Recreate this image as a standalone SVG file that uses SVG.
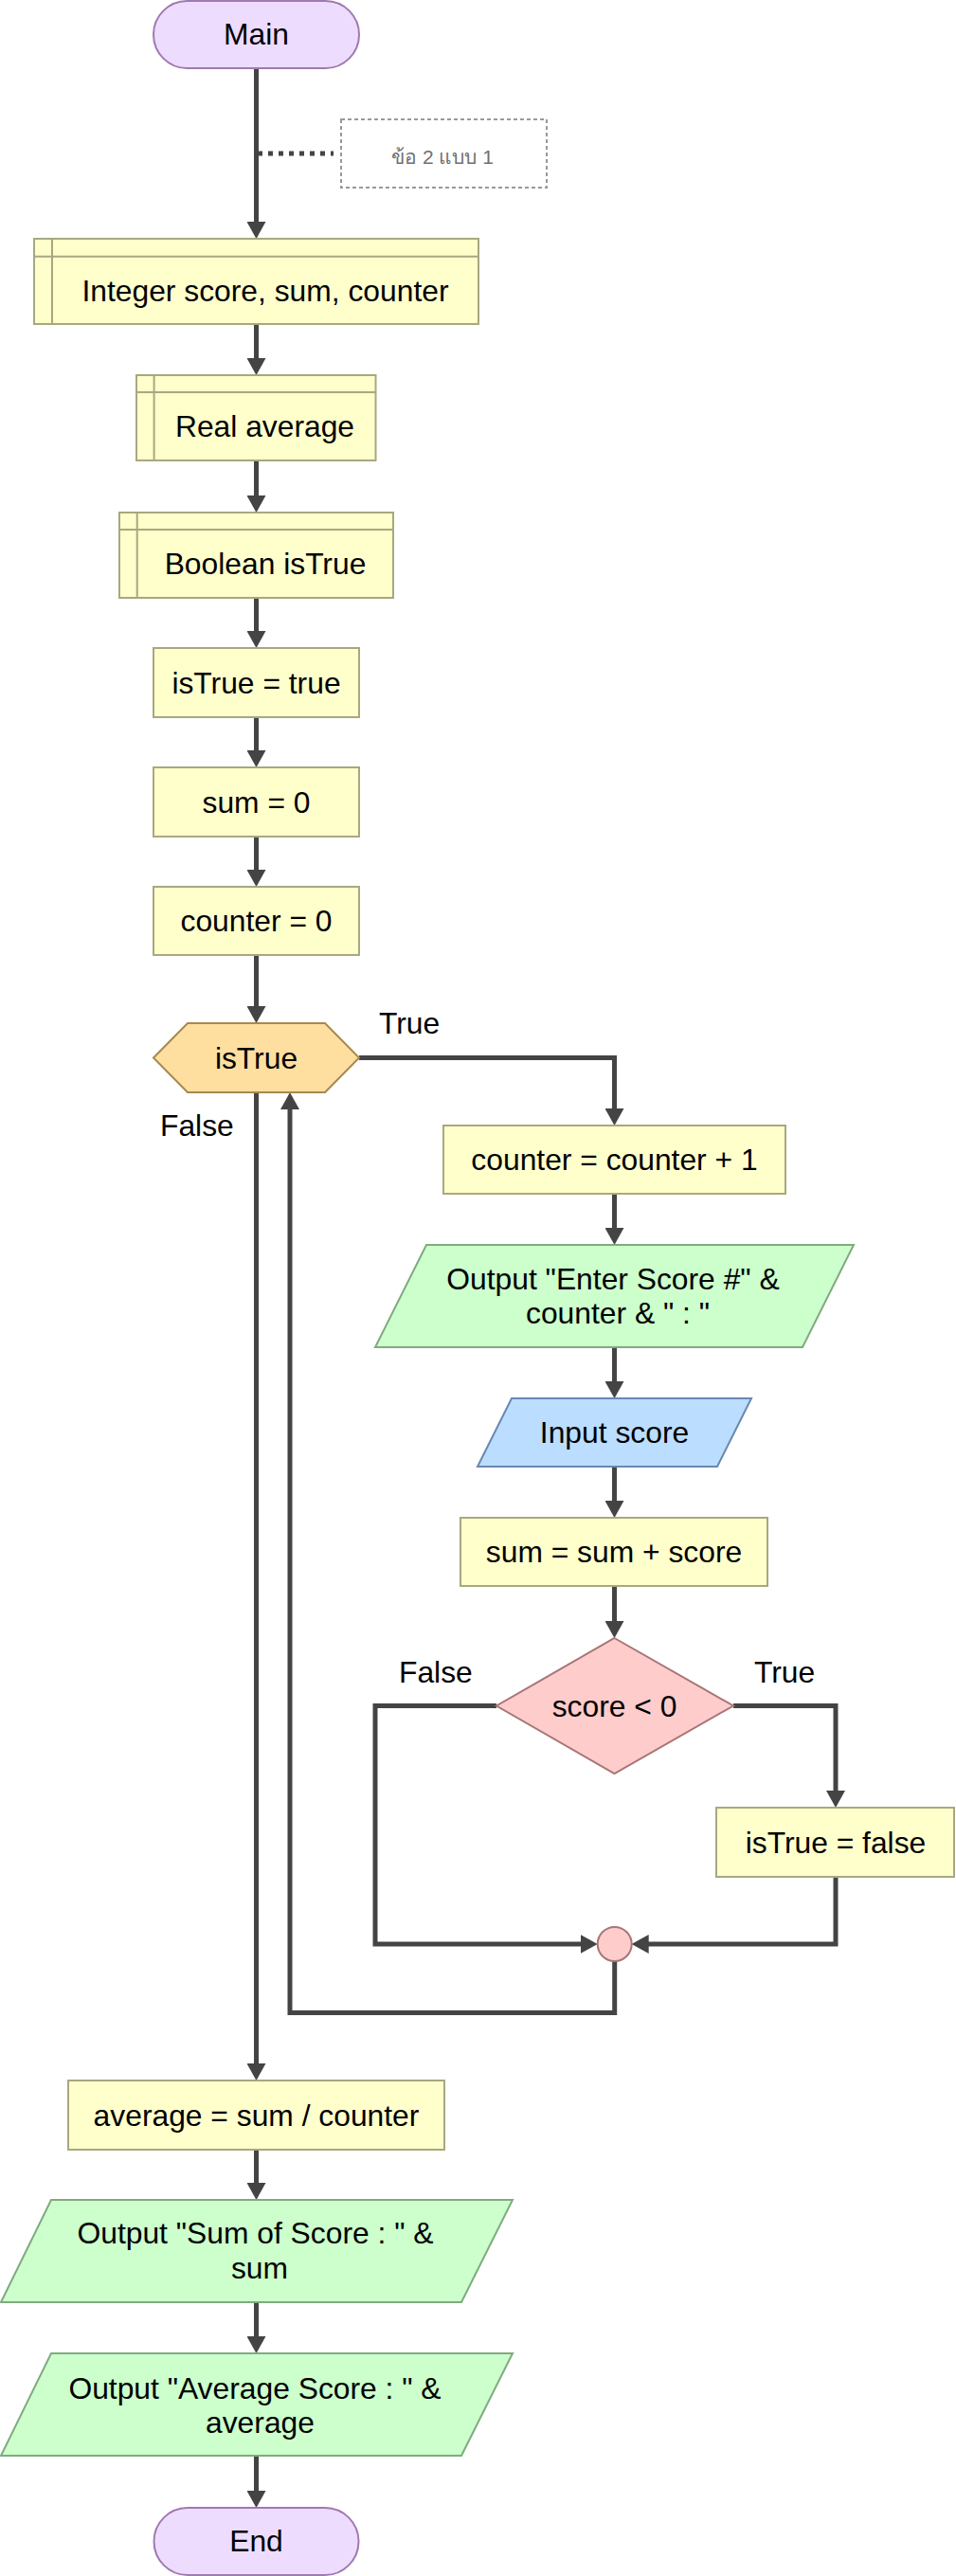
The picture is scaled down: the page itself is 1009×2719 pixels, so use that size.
<svg xmlns="http://www.w3.org/2000/svg" width="1009" height="2719" viewBox="0 0 1009 2719">
<style>
text{font-family:"Liberation Sans",Arial,"Noto Sans",sans-serif;font-size:31.8px;fill:#000;text-anchor:middle}
.lbl{text-anchor:start}
.cmt{font-size:21px;fill:#707070;font-weight:normal}
.proc{fill:#ffffcc;stroke:#a8a880;stroke-width:2}
.term{fill:#eedcff;stroke:#a07ab0;stroke-width:2}
.loop{fill:#ffdf9f;stroke:#a8884e;stroke-width:2}
.out{fill:#ccffcc;stroke:#80aa80;stroke-width:2}
.inp{fill:#bbddff;stroke:#6888b0;stroke-width:2}
.dec{fill:#ffcccc;stroke:#a87676;stroke-width:2}
.cbox{fill:#fff;stroke:#999;stroke-width:2;stroke-dasharray:4 3}
.c{fill:none;stroke:#444;stroke-width:5;marker-end:url(#ah)}
.dot{fill:none;stroke:#444;stroke-width:5;stroke-dasharray:5 6}
</style>
<defs>
<marker id="ah" viewBox="0 0 18 20" markerWidth="18" markerHeight="20" refX="8" refY="10" orient="auto" markerUnits="userSpaceOnUse">
<path d="M0,0 L18,10 L0,20 z" fill="#444"/>
</marker>
</defs>
<g id="connectors">
<path class="c" d="M270.5,72 V242"/>
<path class="dot" d="M272,162 H352"/>
<path class="c" d="M270.5,342 V386"/>
<path class="c" d="M270.5,486 V531"/>
<path class="c" d="M270.5,631 V674"/>
<path class="c" d="M270.5,757 V800"/>
<path class="c" d="M270.5,883 V926"/>
<path class="c" d="M270.5,1008 V1070"/>
<path class="c" d="M379,1116.5 H648.5 V1178"/>
<path class="c" d="M648.5,1260 V1304"/>
<path class="c" d="M648.5,1422 V1466"/>
<path class="c" d="M648.5,1548 V1592"/>
<path class="c" d="M648.5,1674 V1719"/>
<path class="c" d="M774,1800.5 H882 V1898"/>
<path class="c" d="M524,1800.5 H396 V2052 H620.7"/>
<path class="c" d="M882,1981 V2052 H676.7"/>
<path class="c" d="M648.7,2070 V2124.5 H306 V1163"/>
<path class="c" d="M270.5,1153 V2186"/>
<path class="c" d="M270.5,2269 V2312"/>
<path class="c" d="M270.5,2430 V2474"/>
<path class="c" d="M270.5,2592 V2637"/>
<text class="lbl" x="400" y="1091">True</text>
<text class="lbl" x="169" y="1199">False</text>
<text class="lbl" x="421" y="1775.5">False</text>
<text class="lbl" x="796" y="1775.5">True</text>
</g>
<g id="main">
<rect class="term" x="162" y="1" width="217" height="71" rx="35.5"/>
<text x="270.5" y="47">Main</text>
</g>
<g id="comment">
<rect class="cbox" x="360" y="126" width="217" height="72"/>
<text class="cmt" x="467" y="173">ข้อ 2 แบบ 1</text>
</g>
<g id="decl-integer">
<rect class="proc" x="36" y="252" width="469" height="90"/>
<path class="proc" d="M55,252 V342 M36,270.7 H505"/>
<text x="280" y="318">Integer score, sum, counter</text>
</g>
<g id="decl-real">
<rect class="proc" x="144" y="396" width="252.5" height="90"/>
<path class="proc" d="M162.6,396 V486 M144,414 H396.5"/>
<text x="279.5" y="461">Real average</text>
</g>
<g id="decl-boolean">
<rect class="proc" x="126" y="541" width="289" height="90"/>
<path class="proc" d="M144.7,541 V631 M126,559 H415"/>
<text x="280" y="606">Boolean isTrue</text>
</g>
<g id="assign-istrue">
<rect class="proc" x="162" y="684" width="217" height="73"/>
<text x="270.5" y="732">isTrue = true</text>
</g>
<g id="assign-sum">
<rect class="proc" x="162" y="810" width="217" height="73"/>
<text x="270.5" y="857.5">sum = 0</text>
</g>
<g id="assign-counter">
<rect class="proc" x="162" y="936" width="217" height="72"/>
<text x="270.5" y="983">counter = 0</text>
</g>
<g id="while-istrue">
<polygon class="loop" points="162,1116.5 198,1080 343,1080 379,1116.5 343,1153 198,1153"/>
<text x="270.5" y="1127.5">isTrue</text>
</g>
<g id="counter-inc">
<rect class="proc" x="468" y="1188" width="361" height="72"/>
<text x="648.5" y="1235">counter = counter + 1</text>
</g>
<g id="output-enter">
<polygon class="out" points="450,1314 901,1314 847,1422 396,1422"/>
<text x="647" y="1361">Output "Enter Score #" &amp;</text>
<text x="652" y="1397">counter &amp; " : "</text>
</g>
<g id="input-score">
<polygon class="inp" points="540,1476 793,1476 757,1548 504,1548"/>
<text x="648.5" y="1523">Input score</text>
</g>
<g id="sum-add">
<rect class="proc" x="486" y="1602" width="324" height="72"/>
<text x="648" y="1649">sum = sum + score</text>
</g>
<g id="if-score">
<polygon class="dec" points="648.5,1729 774,1800.5 648.5,1872 524,1800.5"/>
<text x="648.5" y="1811.5">score &lt; 0</text>
</g>
<g id="assign-false">
<rect class="proc" x="756" y="1908" width="251" height="73"/>
<text x="882" y="1956">isTrue = false</text>
</g>
<g id="merge">
<circle class="dec" cx="648.7" cy="2052" r="18"/>
</g>
<g id="average-calc">
<rect class="proc" x="72" y="2196" width="397" height="73"/>
<text x="270.5" y="2243.5">average = sum / counter</text>
</g>
<g id="output-sum">
<polygon class="out" points="54,2322 541,2322 487,2430 1,2430"/>
<text x="269.5" y="2368">Output "Sum of Score : " &amp;</text>
<text x="274" y="2405">sum</text>
</g>
<g id="output-average">
<polygon class="out" points="54,2484 541,2484 487,2592 1,2592"/>
<text x="269" y="2531.5">Output "Average Score : " &amp;</text>
<text x="274.5" y="2568">average</text>
</g>
<g id="end">
<rect class="term" x="162.5" y="2647" width="216" height="71" rx="35.5"/>
<text x="270.5" y="2693">End</text>
</g>
</svg>
